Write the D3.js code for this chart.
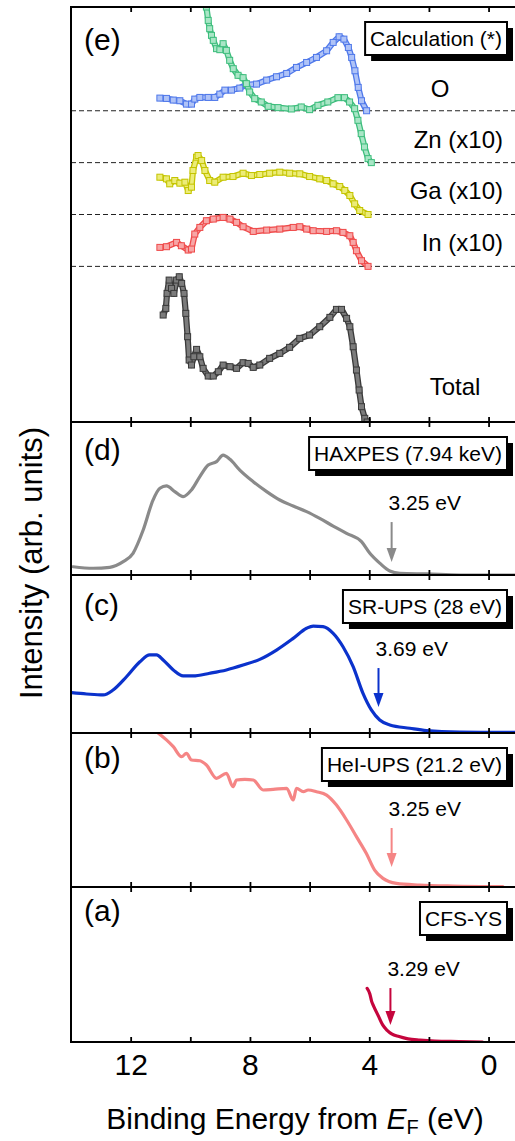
<!DOCTYPE html>
<html>
<head>
<script src="https://d3js.org/d3.v7.min.js"></script>
<style>
  body { margin: 0; background: #fff; }
  svg { display: block; font-family: "Liberation Sans", Arial, Helvetica, sans-serif; }
</style>
</head>
<body>
<svg id="chart" width="515" height="1141"></svg>
<script>
// ---- data: [binding energy (eV), intensity] ----
const xTickLabels = [12, 8, 4, 0];
const xMinorTicks = [12, 10, 8, 6, 4, 2, 0];

// (e) calculation, values relative to each curve's own baseline
const calcO = [[11.02,.244],[10.80,.238],[10.57,.206],[10.35,.193],[10.13,.128],[9.96,.128],[9.85,.225],[9.68,.257],
  [9.40,.257],[9.18,.257],[9.01,.321],[8.84,.398],[8.62,.398],[8.34,.437],[8.12,.501],[7.78,.514],[7.44,.591],
  [7.11,.655],[6.77,.719],[6.44,.835],[6.10,.931],[5.77,1.028],[5.43,1.156],[5.21,1.317],[5.01,1.426],[4.85,1.381],
  [4.70,1.220],[4.59,1.028],[4.48,.771],[4.37,.450],[4.26,.193],[4.09,0]];
const calcZn = [[9.52,3.2],[9.46,3.0],[9.40,2.742],[9.35,2.582],[9.29,2.453],[9.23,2.357],[9.12,2.197],[9.01,2.177],
  [8.90,2.293],[8.79,2.164],[8.68,1.972],[8.56,1.811],[8.40,1.683],[8.23,1.638],[8.12,1.522],[8.01,1.362],
  [7.84,1.233],[7.62,1.169],[7.39,1.085],[7.06,1.060],[6.61,1.034],[6.28,1.073],[6.00,1.021],[5.72,1.105],
  [5.39,1.169],[5.05,1.252],[4.83,1.252],[4.66,1.169],[4.49,1.040],[4.38,.816],[4.27,.559],[4.16,.302],[4.04,.077],[3.93,0]];
const calcGa = [[11.02,.719],[10.80,.687],[10.69,.591],[10.52,.655],[10.35,.604],[10.18,.623],[10.07,.462],[9.96,.527],
  [9.91,.848],[9.79,1.105],[9.74,1.137],[9.62,1.040],[9.51,.848],[9.35,.655],[9.18,.623],[8.90,.719],[8.57,.732],
  [8.23,.796],[7.95,.751],[7.67,.771],[7.34,.796],[7.00,.816],[6.67,.796],[6.33,.784],[6.00,.732],[5.66,.687],
  [5.43,.655],[5.21,.591],[4.99,.539],[4.82,.462],[4.65,.366],[4.49,.206],[4.32,.077],[4.04,0]];
const calcIn = [[11.02,.366],[10.80,.379],[10.46,.462],[10.30,.398],[10.07,.315],[9.96,.334],[9.85,.623],[9.68,.751],
  [9.46,.880],[9.23,.912],[8.90,.944],[8.67,.912],[8.45,.848],[8.23,.764],[7.89,.674],[7.44,.700],[7.00,.719],
  [6.55,.751],[6.33,.764],[6.10,.719],[5.88,.687],[5.43,.674],[5.10,.687],[4.88,.655],[4.65,.591],[4.54,.462],
  [4.43,.302],[4.26,.109],[4.04,0]];
const calcTotal = [[10.91,2.062],[10.82,2.190],[10.78,2.479],[10.71,2.736],[10.63,2.576],[10.55,2.479],[10.46,2.736],
  [10.37,2.800],[10.29,2.672],[10.21,2.479],[10.15,2.094],[10.09,1.644],[10.04,1.195],[9.96,1.098],[9.88,1.258],
  [9.79,1.400],[9.68,1.258],[9.57,1.034],[9.40,.886],[9.23,.886],[9.06,.969],[8.90,1.098],[8.67,1.066],[8.45,1.034],
  [8.23,1.143],[8.06,1.130],[7.89,1.053],[7.67,1.098],[7.34,1.227],[7.00,1.323],[6.67,1.439],[6.33,1.612],
  [6.00,1.676],[5.66,1.837],[5.32,2.017],[5.10,2.171],[4.93,2.171],[4.76,1.998],[4.65,1.837],[4.54,1.451],
  [4.43,1.002],[4.34,.617],[4.26,.295],[4.15,.071],[4.07,0]];

// (d)-(a) measured spectra, normalised to panel height
const haxpes = [[13.93,.054],[13.26,.044],[12.70,.050],[12.25,.087],[11.92,.142],[11.58,.294],[11.25,.490],[11.02,.567],
  [10.80,.582],[10.52,.545],[10.24,.512],[9.96,.556],[9.68,.643],[9.40,.719],[9.12,.741],[8.90,.784],[8.67,.756],
  [8.34,.686],[7.89,.610],[7.44,.545],[7.00,.490],[6.55,.451],[6.10,.414],[5.66,.370],[5.21,.320],[4.76,.272],
  [4.26,.218],[3.98,.142],[3.64,.076],[3.31,.026],[2.97,.011],[2.07,.007],[0.95,0],[-0.9,0]];
const srUps = [[13.98,.255],[13.48,.247],[12.92,.241],[12.59,.272],[12.14,.356],[11.69,.451],[11.36,.494],[11.13,.494],
  [10.91,.462],[10.57,.399],[10.24,.361],[9.91,.361],[9.35,.378],[8.79,.399],[8.23,.430],[7.67,.466],[7.11,.525],
  [6.55,.599],[6.10,.663],[5.88,.677],[5.55,.673],[5.21,.631],[4.88,.546],[4.54,.420],[4.21,.251],[3.93,.146],
  [3.65,.082],[3.31,.051],[2.64,.030],[2.08,.015],[0.96,.006],[-0.9,.004]];
const heiUps = [[11.08,1.0],[10.80,.955],[10.57,.911],[10.29,.846],[10.13,.868],[9.96,.825],[9.68,.820],[9.46,.792],
  [9.12,.706],[8.79,.738],[8.57,.651],[8.45,.695],[8.17,.699],[7.89,.695],[7.56,.630],[7.22,.634],[6.77,.641],
  [6.55,.565],[6.44,.641],[6.21,.619],[6.05,.630],[5.77,.619],[5.43,.597],[5.10,.532],[4.76,.435],[4.43,.327],
  [4.10,.219],[3.82,.110],[3.54,.056],[3.09,.024],[2.31,.013],[1.19,.006],[-0.48,.002]];
const cfsYs = [[4.07,.346],[3.98,.310],[3.92,.262],[3.85,.230],[3.70,.170],[3.55,.110],[3.40,.075],[3.25,.052],
  [3.00,.035],[2.70,.020],[2.30,.012],[1.80,.006],[1.00,.003],[0.20,0]];

const onsetEnergy = [3.25, 3.69, 3.25, 3.29];
const onsetLabel = ["3.25 eV", "3.69 eV", "3.25 eV", "3.29 eV"];
const arrowFrom = [0.346, 0.411, 0.383, 0.348];
const arrowTo = [0.085, 0.165, 0.130, 0.110];

const boxLabels = ["Calculation (*)", "HAXPES (7.94 keV)", "SR-UPS (28 eV)", "HeI-UPS (21.2 eV)", "CFS-YS"];
const panelLetters = ["(e)", "(d)", "(c)", "(b)", "(a)"];

// ---- layout ----
const svg = d3.select("#chart");
const left = 71, right = 515;
const x = d3.scaleLinear().domain([14, -0.9]).range([left, 515.4]);

const panels = [
  { top: 7,   bottom: 422,  ymax: 8, labelY: 50 },
  { top: 422, bottom: 575,  ymax: 1, labelY: 460 },
  { top: 575, bottom: 733,  ymax: 1, labelY: 615 },
  { top: 733, bottom: 887,  ymax: 1, labelY: 768 },
  { top: 887, bottom: 1042, ymax: 1, labelY: 921 }
];
panels.forEach(p => { p.y = d3.scaleLinear().domain([0, p.ymax]).range([p.bottom, p.top]); });

const defs = svg.append("defs");
panels.forEach((p, i) => {
  defs.append("clipPath").attr("id", "clip" + i)
    .append("rect").attr("x", left).attr("y", p.top).attr("width", right - left).attr("height", p.bottom - p.top);
});

// ---- panel (e): calculated partial DOS, square markers ----
const pe = panels[0];
const calc = [
  { data: calcO,     offset: 6, stroke: "#4f78ea", fill: "#afc3f7" },
  { data: calcZn,    offset: 5, stroke: "#3dbd7c", fill: "#a9e6c6" },
  { data: calcGa,    offset: 4, stroke: "#c4c400", fill: "#ecec78" },
  { data: calcIn,    offset: 3, stroke: "#ef4a4a", fill: "#f7a6a6" },
  { data: calcTotal, offset: 0, stroke: "#3a3a3a", fill: "#7c7c7c" }
];

// dashed baselines of the offset curves
const ge = svg.append("g");
[3, 4, 5, 6].forEach(v => {
  ge.append("line").attr("x1", left).attr("x2", right).attr("y1", pe.y(v)).attr("y2", pe.y(v))
    .attr("stroke", "#222").attr("stroke-width", 1).attr("stroke-dasharray", "5,3");
});

const gCalc = svg.append("g").attr("clip-path", "url(#clip0)");
calc.forEach(s => {
  const line = d3.line().x(d => x(d[0])).y(d => pe.y(d[1] + s.offset));
  gCalc.append("path").attr("d", line(s.data)).attr("fill", "none")
    .attr("stroke", s.stroke).attr("stroke-width", 6.2).attr("stroke-linejoin", "round");
  gCalc.append("path").attr("d", line(s.data)).attr("fill", "none")
    .attr("stroke", s.fill).attr("stroke-width", 3.6).attr("stroke-linejoin", "round");
  gCalc.selectAll(null).data(s.data).enter().append("rect")
    .attr("x", d => x(d[0]) - 3).attr("y", d => pe.y(d[1] + s.offset) - 3)
    .attr("width", 6).attr("height", 6)
    .attr("fill", s.fill).attr("stroke", s.stroke).attr("stroke-width", 1);
});

const elemLabels = [
  { t: "O", v: 6.27, anchor: "middle", xp: 440 },
  { t: "Zn (x10)", v: 5.28, anchor: "end", xp: 503 },
  { t: "Ga (x10)", v: 4.30, anchor: "end", xp: 503 },
  { t: "In (x10)", v: 3.30, anchor: "end", xp: 503 },
  { t: "Total", v: 0.52, anchor: "middle", xp: 455 }
];
elemLabels.forEach(l => {
  svg.append("text").attr("x", l.xp).attr("y", pe.y(l.v)).attr("text-anchor", l.anchor)
    .attr("font-size", 24).attr("fill", "#000").text(l.t);
});

// ---- panels (d)-(a): measured spectra ----
const spectra = [
  { data: haxpes, color: "#8a8a8a" },
  { data: srUps,  color: "#0b32cc" },
  { data: heiUps, color: "#f58585" },
  { data: cfsYs,  color: "#c5053d" }
];
spectra.forEach((s, i) => {
  const p = panels[i + 1];
  const line = d3.line().x(d => x(d[0])).y(d => p.y(d[1])).curve(d3.curveMonotoneX);
  svg.append("g").attr("clip-path", "url(#clip" + (i + 1) + ")")
    .append("path").attr("d", line(s.data.slice().reverse())).attr("fill", "none")
    .attr("stroke", s.color).attr("stroke-width", 3.2).attr("stroke-linejoin", "round").attr("stroke-linecap", "round");

  // onset arrow + label
  const ax = x(onsetEnergy[i]);
  const y0 = p.y(arrowFrom[i]), y1 = p.y(arrowTo[i]);
  svg.append("line").attr("x1", ax).attr("x2", ax).attr("y1", y0).attr("y2", y1 - 10)
    .attr("stroke", s.color).attr("stroke-width", 2);
  svg.append("path").attr("d", `M${ax - 5},${y1 - 14}L${ax + 5},${y1 - 14}L${ax},${y1}Z`).attr("fill", s.color);
  svg.append("text").attr("x", ax - 3).attr("y", y0 - 12).attr("font-size", 21).attr("fill", "#000")
    .text(onsetLabel[i]);
});

// ---- frame and ticks ----
const frame = svg.append("g");
panels.forEach(p => {
  frame.append("g").attr("transform", `translate(0,${p.top})`)
    .call(d3.axisTop(x).tickValues(xMinorTicks).tickSize(-5).tickFormat(""))
    .call(g => g.select(".domain").remove())
    .selectAll("line").attr("stroke-width", 1.8);
  frame.append("g").attr("transform", `translate(0,${p.bottom})`)
    .call(d3.axisBottom(x).tickValues(xMinorTicks).tickSize(-5).tickFormat(""))
    .call(g => g.select(".domain").remove())
    .selectAll("line").attr("stroke-width", 1.8);
  frame.append("line").attr("x1", left - 1).attr("x2", right).attr("y1", p.top).attr("y2", p.top)
    .attr("stroke", "#000").attr("stroke-width", 2);
  frame.append("line").attr("x1", left - 1).attr("x2", right).attr("y1", p.bottom).attr("y2", p.bottom)
    .attr("stroke", "#000").attr("stroke-width", 2);
});
frame.append("line").attr("x1", left).attr("x2", left).attr("y1", panels[0].top - 1).attr("y2", panels[4].bottom + 1)
  .attr("stroke", "#000").attr("stroke-width", 2);

// tick labels
const xAxis = svg.append("g").attr("transform", `translate(0,${panels[4].bottom})`)
  .call(d3.axisBottom(x).tickValues(xTickLabels).tickSize(0).tickPadding(12).tickFormat(d3.format("d")));
xAxis.select(".domain").remove();
xAxis.selectAll("text").attr("font-size", 30).attr("font-family", "Liberation Sans, Arial, sans-serif").attr("fill", "#000");

// ---- panel letters and method boxes ----
panels.forEach((p, i) => {
  svg.append("text").attr("x", 84).attr("y", p.labelY).attr("font-size", 30).text(panelLetters[i]);

  const g = svg.append("g");
  const t = g.append("text").attr("font-size", 21).attr("text-anchor", "end")
    .attr("x", 502).attr("y", p.top + 39).text(boxLabels[i]);
  const w = t.node().getComputedTextLength() + 10;
  const bx = 507 - w, by = p.top + 15;
  g.insert("rect", "text").attr("x", bx + 6).attr("y", by + 6).attr("width", w).attr("height", 33).attr("fill", "#000");
  g.insert("rect", "text").attr("x", bx).attr("y", by).attr("width", w).attr("height", 33)
    .attr("fill", "#fff").attr("stroke", "#000").attr("stroke-width", 2);
});

// ---- axis titles ----
const xt = svg.append("text").attr("x", 295).attr("y", 1129).attr("text-anchor", "middle").attr("font-size", 30);
xt.append("tspan").text("Binding Energy from ");
xt.append("tspan").attr("font-style", "italic").text("E");
xt.append("tspan").attr("font-size", 20).attr("dy", 5).text("F");
xt.append("tspan").attr("dy", -5).text(" (eV)");

svg.append("text").attr("transform", "translate(42,563) rotate(-90)").attr("text-anchor", "middle")
  .attr("font-size", 31).text("Intensity (arb. units)");
</script>
</body>
</html>
